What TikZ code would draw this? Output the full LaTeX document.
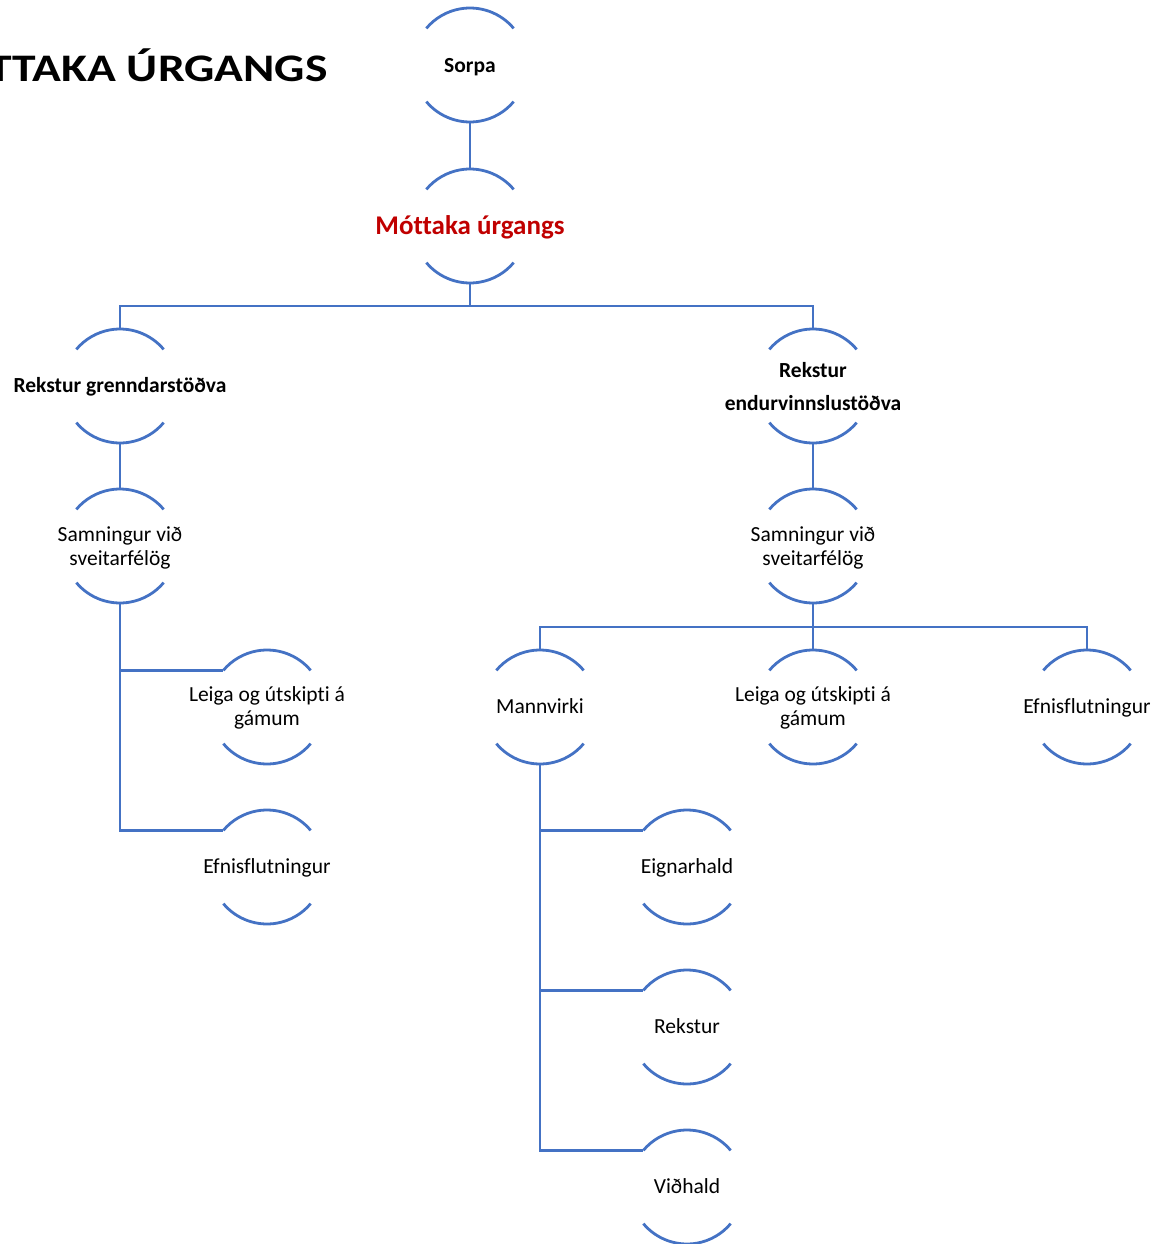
\documentclass[tikz,border=0pt]{standalone}
\usepackage{fontspec}
\setmainfont{Carlito}[Ligatures=NoCommon]
\newfontfamily\titlefont{Carlito}[Ligatures=NoCommon, FakeStretch=1.22]
\definecolor{lineblue}{RGB}{68,114,196}
\definecolor{titlered}{RGB}{192,0,0}
\tikzset{
  circ/.style={circle, draw=none, minimum size=114pt, inner sep=0pt, outer sep=0pt},
  arcline/.style={draw=lineblue, line width=2.8pt},
  conn/.style={draw=lineblue, line width=2.8pt},
  lbl/.style={anchor=base, inner sep=0pt, font=\fontsize{21.5}{24}\selectfont},
  blbl/.style={anchor=base, inner sep=0pt, font=\bfseries\fontsize{21.5}{24}\selectfont},
  rlbl/.style={anchor=base, inner sep=0pt, text=titlered, font=\bfseries\fontsize{27}{32}\selectfont},
}
\newcommand{\mlines}[1]{\begin{tabular}[t]{@{}c@{}}#1\end{tabular}}
\begin{document}
\begin{tikzpicture}[x=1pt,y=1pt]
\useasboundingbox (0,0) rectangle (1154,-1244);
\clip (0,0) rectangle (1154,-1244);

% title
\node[anchor=base east, inner sep=0pt, font=\titlefont\bfseries\fontsize{39}{46}\selectfont] (title) at (328,-82) {MÓTTAKA ÚRGANGS};

% circle nodes
\node[circ] (sorpa) at (470,-65) {};
\node[circ] (mott)  at (470,-226) {};
\node[circ] (rg)    at (120,-386) {};
\node[circ] (re)    at (813,-386) {};
\node[circ] (sl)    at (120,-546) {};
\node[circ] (sr)    at (813,-546) {};
\node[circ] (ll)    at (267,-707) {};
\node[circ] (el)    at (267,-867) {};
\node[circ] (mv)    at (540,-707) {};
\node[circ] (lr)    at (813,-707) {};
\node[circ] (er)    at (1087,-707) {};
\node[circ] (eh)    at (687,-867) {};
\node[circ] (rk)    at (687,-1027) {};
\node[circ] (vh)    at (687,-1187) {};

\foreach \n in {sorpa,mott,rg,re,sl,sr,ll,el,mv,lr,er,eh,rk,vh}{
  \draw[arcline] (\n.40) arc[start angle=40, end angle=140, radius=57pt];
  \draw[arcline] (\n.220) arc[start angle=220, end angle=320, radius=57pt];
}

% labels
\node[blbl] (sorpa-t) at (470,-72.5) {Sorpa};
\node[rlbl] (mott-t)  at (470,-234) {Móttaka úrgangs};
\node[blbl] (rg-t)    at (120,-392.5) {Rekstur grenndarstöðva};
\node[blbl] (re-t)    at (813,-377) {\mlines{Rekstur\\[9pt]endurvinnslustöðva}};
\node[lbl]  (sl-t)    at (120,-541.5) {\mlines{Samningur við\\sveitarfélög}};
\node[lbl]  (sr-t)    at (813,-541.5) {\mlines{Samningur við\\sveitarfélög}};
\node[lbl]  (ll-t)    at (267,-701.5) {\mlines{Leiga og útskipti á\\gámum}};
\node[lbl]  (lr-t)    at (813,-701.5) {\mlines{Leiga og útskipti á\\gámum}};
\node[lbl]  (el-t)    at (267,-873.5) {Efnisflutningur};
\node[lbl]  (mv-t)    at (540,-713.5) {Mannvirki};
\node[lbl]  (er-t)    at (1087,-713.5) {Efnisflutningur};
\node[lbl]  (eh-t)    at (687,-873.5) {Eignarhald};
\node[lbl]  (rk-t)    at (687,-1033.5) {Rekstur};
\node[lbl]  (vh-t)    at (687,-1193.5) {Viðhald};

% connectors
\coordinate (j1) at (470,-306);
\coordinate (j2) at (813,-627);
\draw[conn] (sorpa.south) -- (mott.north);
\draw[conn] (mott.south) -- (j1);
\draw[conn] (rg.north) |- (j1) -| (re.north);
\draw[conn] (rg.south) -- (sl.north);
\draw[conn] (re.south) -- (sr.north);
\draw[conn] (sl.south) |- (ll.140);
\draw[conn] (sl.south) |- (el.140);
\draw[conn] (sr.south) -- (j2);
\draw[conn] (mv.north) |- (j2) -| (er.north);
\draw[conn] (j2) -- (lr.north);
\draw[conn] (mv.south) |- (eh.140);
\draw[conn] (mv.south) |- (rk.140);
\draw[conn] (mv.south) |- (vh.140);
\end{tikzpicture}
\end{document}
